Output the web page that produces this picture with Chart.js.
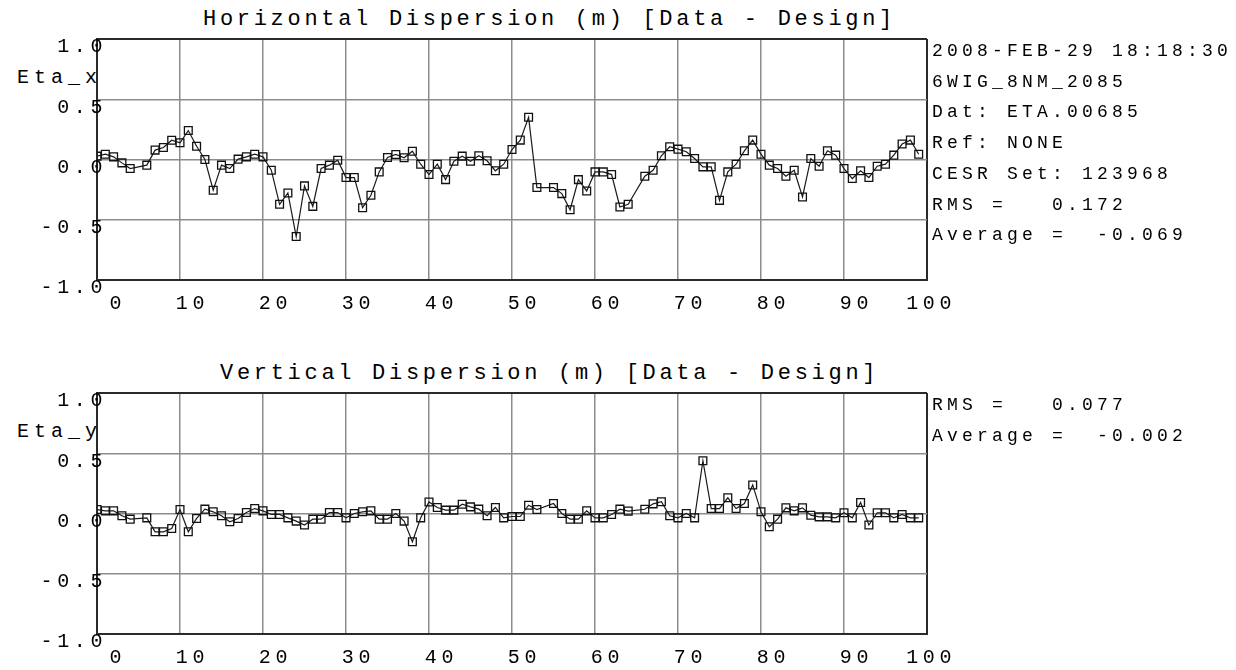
<!DOCTYPE html>
<html>
<head>
<meta charset="utf-8">
<script src="https://cdn.jsdelivr.net/npm/chart.js@4.4.1/dist/chart.umd.min.js"></script>
<style>
  html, body { margin: 0; padding: 0; background: #fff; }
  body { width: 1236px; height: 670px; position: relative; overflow: hidden;
         font-family: 'Liberation Mono', 'DejaVu Sans Mono', monospace; color: #000; }
  .panel { position: absolute; left: 0; width: 1236px; height: 330px; }
  .title { position: absolute; font-size: 22px; line-height: 22px; letter-spacing: 3.7px; white-space: pre; }
  .ylab { position: absolute; left: 0; width: 102px; text-align: right; font-size: 20px;
          line-height: 20px; letter-spacing: 5px; white-space: pre; }
  .info { position: absolute; left: 932px; font-size: 18px; line-height: 30.7px;
          letter-spacing: 4.2px; white-space: pre; }
</style>
</head>
<body>

<div class="title" style="left:203px; top:9px;">Horizontal Dispersion (m) [Data - Design]</div>
<div class="ylab" style="top:68px;">Eta_x</div>
<div class="panel" style="top:0;"><canvas id="etaX"></canvas></div>
<div class="info" id="infoX" style="top:36px;"></div>

<div class="title" style="left:220px; top:363px;">Vertical Dispersion (m) [Data - Design]</div>
<div class="ylab" style="top:422px;">Eta_y</div>
<div class="panel" style="top:354px;"><canvas id="etaY"></canvas></div>
<div class="info" id="infoY" style="top:390px;"></div>

<script>
// detector index 0..99, null where a detector has no reading
var etaX = [
  0.028, 0.044, 0.022, -0.028, -0.075, null, -0.047, 0.078, 0.100, 0.160,
  0.139, 0.240, 0.110, 0.000, -0.255, -0.047, -0.075, 0.003, 0.022, 0.044,
  0.022, -0.089, -0.372, -0.278, -0.639, -0.219, -0.389, -0.075, -0.047, -0.006,
  -0.150, -0.150, -0.400, -0.297, -0.103, 0.017, 0.042, 0.014, 0.069, -0.039,
  -0.125, -0.039, -0.167, -0.014, 0.028, -0.014, 0.031, -0.011, -0.094, -0.039,
  0.083, 0.161, 0.350, -0.233, null, -0.233, -0.283, -0.417, -0.167, -0.261,
  -0.103, -0.103, -0.125, -0.394, -0.372, null, -0.139, -0.089, 0.031, 0.106,
  0.086, 0.064, 0.008, -0.061, -0.061, -0.339, -0.103, -0.039, 0.072, 0.161,
  0.044, -0.047, -0.075, -0.139, -0.089, -0.311, 0.008, -0.056, 0.072, 0.036,
  -0.075, -0.158, -0.094, -0.150, -0.056, -0.039, 0.036, 0.128, 0.161, 0.044
];
var etaY = [
  0.033, 0.022, 0.022, -0.019, -0.047, null, -0.036, -0.152, -0.152, -0.124,
  0.033, -0.152, -0.041, 0.036, 0.014, -0.019, -0.069, -0.041, 0.008, 0.041,
  0.022, -0.008, -0.008, -0.036, -0.063, -0.096, -0.047, -0.047, 0.008, 0.008,
  -0.036, 0.000, 0.014, 0.022, -0.047, -0.047, 0.000, -0.063, -0.234, -0.036,
  0.096, 0.050, 0.028, 0.028, 0.077, 0.055, 0.036, -0.019, 0.050, -0.036,
  -0.025, -0.025, 0.069, 0.033, null, 0.083, 0.000, -0.047, -0.047, 0.022,
  -0.036, -0.036, -0.008, 0.036, 0.020, null, 0.035, 0.080, 0.098, -0.019,
  -0.036, 0.000, -0.036, 0.438, 0.041, 0.041, 0.130, 0.041, 0.083, 0.237,
  0.014, -0.110, -0.047, 0.047, 0.022, 0.047, -0.014, -0.028, -0.028, -0.036,
  0.006, -0.036, 0.091, -0.096, 0.006, 0.006, -0.036, -0.008, -0.036, -0.036
];

var xTickValues = [0, 10, 20, 30, 40, 50, 60, 70, 80, 90, 100];
var yTickValues = [-1, -0.5, 0, 0.5, 1];

var infoX = [
  '2008-FEB-29 18:18:30',
  '6WIG_8NM_2085',
  'Dat: ETA.00685',
  'Ref: NONE',
  'CESR Set: 123968',
  'RMS =   0.172',
  'Average =  -0.069'
];
var infoY = [
  'RMS =   0.077',
  'Average =  -0.002'
];

document.getElementById('infoX').textContent = infoX.join('\n');
document.getElementById('infoY').textContent = infoY.join('\n');

var FONT = "'Liberation Mono', 'DejaVu Sans Mono', monospace";
var FRAME = '#2a2a2a';
var GRID = '#8c8c8c';

// canvas text gets the same wide spacing as the html labels,
// switched off again so label measuring stays plain
var spacing = {
  id: 'spacing',
  beforeDraw: function(chart) { chart.ctx.letterSpacing = '4.6px'; },
  afterDraw: function(chart) { chart.ctx.letterSpacing = '0px'; }
};

function toPoints(values) {
  return values.map(function(v, i) { return { x: i, y: v }; });
}

function isEdge(ctx, lo, hi) {
  return ctx.tick && (ctx.tick.value === lo || ctx.tick.value === hi);
}

function renderPanel(canvasId, values) {
  var ctx = document.getElementById(canvasId).getContext('2d');
  return new Chart(ctx, {
    type: 'line',
    data: {
      datasets: [{
        data: toPoints(values),
        borderColor: '#1a1a1a',
        borderWidth: 1.2,
        pointStyle: 'rect',
        pointRadius: 5.5,
        pointBorderWidth: 1.3,
        pointBorderColor: '#111',
        pointBackgroundColor: 'rgba(0,0,0,0)',
        spanGaps: true,
        tension: 0
      }]
    },
    options: {
      responsive: true,
      maintainAspectRatio: false,
      animation: false,
      events: [],
      layout: { padding: { left: 0, top: 39, right: 309, bottom: 0 } },
      plugins: { legend: { display: false }, tooltip: { enabled: false } },
      scales: {
        x: {
          type: 'linear',
          min: 0,
          max: 100,
          afterBuildTicks: function(s) { s.ticks = xTickValues.map(function(v) { return { value: v }; }); },
          afterFit: function(s) { s.height = 50; },
          grid: {
            drawTicks: false,
            color: function(c) { return isEdge(c, 0, 100) ? FRAME : GRID; },
            lineWidth: function(c) { return isEdge(c, 0, 100) ? 2 : 1.5; }
          },
          border: { display: true, color: FRAME, width: 2 },
          ticks: {
            align: 'end',
            labelOffset: 29,
            padding: 12,
            maxRotation: 0,
            autoSkip: false,
            color: '#000',
            font: { family: FONT, size: 20 },
            callback: function(v) { return String(v); }
          }
        },
        y: {
          min: -1,
          max: 1,
          afterBuildTicks: function(s) { s.ticks = yTickValues.map(function(v) { return { value: v }; }); },
          afterFit: function(s) { s.width = 97; },
          grid: {
            drawTicks: false,
            color: function(c) { return isEdge(c, -1, 1) ? FRAME : GRID; },
            lineWidth: function(c) { return isEdge(c, -1, 1) ? 2 : 1.5; }
          },
          border: { display: true, color: FRAME, width: 2 },
          ticks: {
            // mirrored labels are not clipped to the axis box, so the last
            // digit can sit on the frame; 'far' keeps them right aligned
            mirror: true,
            crossAlign: 'far',
            padding: -38,
            labelOffset: 8,
            color: '#000',
            font: { family: FONT, size: 20 },
            callback: function(v) { return v.toFixed(1); }
          }
        }
      }
    },
    plugins: [spacing]
  });
}

renderPanel('etaX', etaX);
renderPanel('etaY', etaY);
</script>
</body>
</html>
